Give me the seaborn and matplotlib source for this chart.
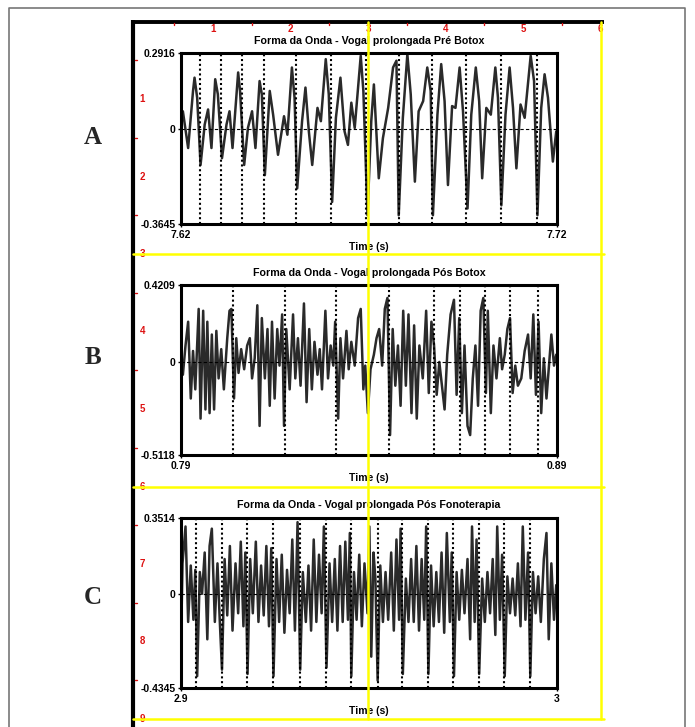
import numpy as np
import pandas as pd
import matplotlib
matplotlib.use('Agg')
import matplotlib.pyplot as plt
import seaborn as sns

# --- A: Pré Botox, 7.62-7.72 s (ms offsets from start, amplitude) ---
a_ms = [0.0, 0.5, 1.9, 3.2, 3.6, 4.3, 5.2, 6.3, 7.2, 8.1,
        9.1, 9.8, 10.9, 12.1, 12.9, 13.7, 15.2, 15.7, 16.8, 17.8,
        18.9, 19.8, 20.9, 21.5, 22.3, 23.6, 24.5, 25.8, 27.4, 28.3,
        29.5, 30.2, 30.9, 32.2, 33.1, 34.0, 34.9, 36.3, 37.2, 38.5,
        39.3, 40.2, 41.2, 42.4, 43.5, 44.4, 45.3, 46.2, 47.8, 48.5,
        49.6, 50.6, 51.3, 52.6, 53.7, 55.1, 56.4, 57.3, 57.9, 59.0,
        60.2, 61.1, 62.2, 63.2, 64.4, 65.5, 66.4, 67.0, 68.2, 69.2,
        70.1, 71.0, 72.1, 73.0, 74.1, 75.0, 76.2, 77.2, 78.4, 79.3,
        80.1, 81.2, 82.4, 83.6, 84.3, 85.2, 86.3, 87.4, 88.3, 89.2,
        90.3, 91.4, 93.0, 93.9, 94.8, 95.8, 96.7, 97.6, 98.9, 99.8]
a_amp = [0.055, 0.068, -0.073, 0.146, 0.197, 0.120, -0.138, 0.017, 0.075, -0.073,
         0.191, 0.133, -0.112, 0.017, 0.068, -0.073, 0.217, 0.146, -0.138, 0.004,
         0.068, -0.073, 0.184, 0.133, -0.177, 0.146, 0.055, -0.099, 0.049, -0.022,
         0.236, 0.120, -0.228, 0.030, 0.159, -0.009, -0.138, 0.081, 0.030, 0.268,
         0.133, -0.280, 0.043, 0.197, -0.009, -0.061, 0.101, 0.004, 0.281, 0.146,
         -0.331, 0.030, 0.171, -0.189, -0.035, 0.081, 0.236, 0.262, -0.331, 0.043,
         0.287, 0.133, -0.202, 0.068, 0.107, 0.236, 0.146, -0.331, 0.055, 0.249,
         0.107, -0.215, 0.088, 0.081, 0.236, 0.068, -0.305, 0.055, 0.236, 0.107,
         -0.189, 0.081, 0.055, 0.236, 0.120, -0.293, 0.055, 0.236, 0.081, -0.151,
         0.094, 0.043, 0.281, 0.184, -0.331, 0.081, 0.210, 0.120, -0.125, -0.009]
a_pulses = [5.0, 10.7, 16.3, 22.0, 30.7, 40.0, 49.3, 58.0, 66.8, 75.9, 85.0, 94.7]

# --- B: Pós Botox, 0.79-0.89 s ---
b_ms = [0.0, 0.5, 1.2, 1.9, 2.6, 3.2, 3.8, 4.7, 5.2, 5.9,
        6.5, 7.0, 7.6, 8.2, 8.8, 9.4, 10.0, 10.7, 11.4, 12.3,
        12.9, 13.4, 14.1, 14.7, 15.3, 16.0, 16.8, 17.6, 18.3, 18.9,
        19.6, 20.3, 20.9, 21.5, 22.3, 23.0, 23.6, 24.2, 24.9, 25.6,
        26.2, 26.9, 27.4, 28.0, 28.9, 29.8, 30.4, 31.1, 31.8, 32.7,
        33.4, 34.1, 34.8, 35.5, 36.3, 36.9, 37.5, 38.4, 39.1, 39.8,
        40.5, 41.0, 41.8, 42.4, 43.1, 44.0, 44.6, 45.3, 46.2, 47.1,
        47.8, 48.5, 49.0, 49.7, 50.4, 51.3, 52.0, 52.7, 53.5, 54.2,
        54.9, 55.6, 56.3, 57.0, 57.7, 58.4, 59.1, 59.8, 60.5, 61.3,
        62.0, 62.7, 63.4, 64.3, 65.2, 65.9, 66.6, 67.3, 68.0, 68.7,
        69.4, 70.1, 70.8, 71.7, 72.6, 73.3, 74.0, 74.7, 75.4, 76.2,
        76.9, 77.6, 78.3, 79.0, 79.7, 80.4, 81.1, 81.6, 82.4, 83.1,
        83.9, 84.8, 85.4, 86.1, 86.8, 87.5, 88.2, 88.9, 89.6, 90.5,
        91.4, 92.3, 93.0, 93.7, 94.4, 95.1, 95.8, 96.5, 97.2, 97.8,
        98.5, 99.2, 99.8]
b_amp = [0.00, -0.07, 0.09, 0.22, -0.20, 0.06, -0.15, 0.29, -0.31, 0.28,
         -0.26, 0.22, -0.28, 0.15, -0.26, 0.17, -0.09, 0.07, -0.15, 0.13,
         0.28, 0.29, -0.20, 0.13, -0.06, 0.07, -0.04, 0.09, 0.13, -0.09,
         0.02, 0.31, -0.35, 0.24, -0.09, 0.18, -0.24, 0.22, -0.20, 0.18,
         -0.02, 0.26, -0.35, 0.18, -0.15, 0.26, -0.09, 0.13, -0.13, 0.32,
         -0.22, 0.18, -0.15, 0.11, -0.07, 0.07, -0.15, 0.28, -0.09, 0.09,
         -0.02, 0.22, -0.31, 0.13, -0.09, 0.17, -0.04, 0.11, -0.02, 0.24,
         0.29, -0.15, -0.02, -0.28, -0.04, 0.04, 0.13, 0.18, -0.02, 0.29,
         0.35, -0.40, 0.18, -0.13, 0.09, -0.24, 0.28, -0.13, 0.26, -0.28,
         0.20, -0.31, 0.09, -0.09, 0.28, -0.17, 0.22, 0.09, -0.18, 0.00,
         -0.13, -0.26, 0.04, 0.26, 0.34, -0.18, 0.24, -0.28, 0.09, -0.35,
         -0.40, -0.09, 0.09, -0.24, 0.28, 0.35, -0.17, 0.28, -0.28, 0.09,
         -0.09, 0.13, -0.04, 0.04, 0.18, 0.24, -0.17, -0.02, -0.13, -0.09,
         0.06, 0.15, -0.09, 0.26, -0.18, 0.22, -0.28, 0.02, -0.20, -0.04,
         0.15, -0.02, 0.04]
b_pulses = [13.8, 27.6, 41.3, 55.2, 67.3, 74.1, 80.8, 87.4, 95.0]

# --- C: Pós Fonoterapia, 2.9-3.0 s ---
c_ms = [0.0, 0.4, 1.2, 1.9, 2.6, 3.3, 3.8, 4.3, 5.0, 5.6,
        6.3, 7.0, 7.6, 8.2, 9.0, 9.7, 10.3, 10.9, 11.6, 12.3,
        13.0, 13.7, 14.5, 15.2, 15.9, 16.6, 17.1, 17.7, 18.4, 19.1,
        19.9, 20.6, 21.3, 22.0, 22.7, 23.4, 24.0, 24.6, 25.4, 26.1,
        26.8, 27.5, 28.2, 28.9, 29.6, 30.3, 31.0, 31.7, 32.4, 33.2,
        33.9, 34.6, 35.3, 36.0, 36.7, 37.4, 38.0, 38.7, 39.5, 40.2,
        40.9, 41.6, 42.3, 43.0, 43.7, 44.4, 44.9, 45.3, 46.0, 46.7,
        47.4, 48.1, 48.8, 49.6, 50.1, 50.6, 51.2, 51.7, 52.3, 53.0,
        53.7, 54.4, 55.1, 55.9, 56.6, 57.3, 58.0, 58.4, 59.0, 59.8,
        60.5, 61.2, 61.9, 62.6, 63.3, 64.0, 64.7, 65.2, 65.8, 66.5,
        67.2, 67.9, 68.6, 69.3, 70.0, 70.7, 71.5, 72.0, 72.6, 73.3,
        74.0, 74.7, 75.4, 76.2, 76.9, 77.4, 78.1, 78.6, 79.3, 80.1,
        80.8, 81.5, 82.2, 82.9, 83.6, 84.1, 84.8, 85.4, 86.1, 86.8,
        87.5, 88.2, 88.9, 89.6, 90.3, 90.9, 91.6, 92.3, 92.9, 93.6,
        94.3, 95.0, 95.7, 96.5, 97.2, 97.8, 98.5, 99.2, 99.8]
c_amp = [-0.24, 0.14, 0.31, -0.13, 0.13, -0.12, 0.11, -0.38, 0.10, 0.00,
         0.19, -0.21, 0.22, 0.30, -0.13, 0.14, -0.12, -0.35, 0.16, -0.10,
         0.22, -0.17, 0.14, -0.09, 0.24, -0.15, 0.19, -0.37, 0.16, -0.09,
         0.24, -0.13, 0.13, -0.10, 0.22, -0.15, 0.21, -0.38, 0.16, -0.13,
         0.18, -0.18, 0.11, -0.09, 0.25, -0.17, 0.33, -0.35, 0.10, -0.13,
         0.13, -0.17, 0.25, -0.13, 0.18, -0.09, 0.31, -0.34, 0.14, -0.13,
         0.16, -0.17, 0.22, -0.13, 0.24, -0.12, 0.28, -0.38, 0.10, -0.12,
         0.18, -0.15, 0.14, -0.09, 0.31, -0.29, 0.19, 0.07, -0.40, 0.13,
         -0.13, 0.10, -0.12, 0.19, -0.17, 0.25, -0.12, 0.30, -0.37, 0.07,
         -0.13, 0.16, -0.13, 0.22, -0.17, 0.16, -0.12, 0.31, -0.37, 0.13,
         -0.15, 0.10, -0.13, 0.19, -0.18, 0.28, -0.13, 0.19, -0.38, 0.10,
         -0.12, 0.11, -0.09, 0.16, -0.21, 0.31, -0.13, 0.25, -0.37, 0.07,
         -0.13, 0.10, -0.09, 0.16, -0.19, 0.31, -0.12, 0.18, -0.38, 0.08,
         -0.09, 0.07, -0.10, 0.14, -0.15, 0.31, -0.12, 0.19, -0.38, 0.10,
         -0.09, 0.08, -0.13, 0.16, 0.28, -0.21, 0.14, -0.12, 0.04]
c_pulses = [4.1, 10.8, 17.6, 24.6, 31.7, 38.6, 45.2, 52.3, 58.9, 65.6, 72.4, 79.3, 86.0, 92.7]

titles = ['Forma da Onda - Vogal prolongada Pré Botox',
          'Forma da Onda - Vogal prolongada Pós Botox',
          'Forma da Onda - Vogal prolongada Pós Fonoterapia']
letters = ['A', 'B', 'C']
t_start = [7.62, 0.79, 2.9]
t_end = [7.72, 0.89, 3.0]
t_labels = [['7.62', '7.72'], ['0.79', '0.89'], ['2.9', '3']]
y_min = [-0.3645, -0.5118, -0.4345]
y_max = [0.2916, 0.4209, 0.3514]
y_labels = [['-0.3645', '0', '0.2916'], ['-0.5118', '0', '0.4209'], ['-0.4345', '0', '0.3514']]

sns.set_style('white')
plt.rcParams['font.family'] = ['Liberation Sans', 'DejaVu Sans']

W, H = 695, 727
fig = plt.figure(figsize=(W / 100, H / 100), dpi=100)


def px_axes(x0, y0, x1, y1, **kw):
    return fig.add_axes([x0 / W, 1 - y1 / H, (x1 - x0) / W, (y1 - y0) / H], **kw)


# background: page frame, Praat rulers, letters
bg = px_axes(0, 0, W, H)
bg.set_xlim(0, W)
bg.set_ylim(H, 0)
bg.axis('off')
bg.plot([9, 9, 685, 685], [H, 8, 8, H], color='#777777', lw=1.2)

ox, oy, inch_x, inch_y = 135.2, 21.5, 77.6, 77.5
bg.plot([133, 604], [oy, oy], color='k', lw=2.8, solid_capstyle='butt')
bg.plot([133, 133], [oy - 1.5, H], color='k', lw=3.0, solid_capstyle='butt')
red = '#dd1111'
for i in range(1, 7):
    bg.text(ox + i * inch_x, oy + 7.5, str(i), color=red, fontsize=7,
            fontweight='bold', ha='center', va='center')
    bg.plot([ox + (i - 0.5) * inch_x] * 2, [oy + 1.5, oy + 3.5], color=red, lw=1)
for i in range(1, 10):
    bg.text(142.5, oy + i * inch_y, str(i), color=red, fontsize=7,
            fontweight='bold', ha='center', va='center')
    bg.plot([134.5, 136.5], [oy + (i - 0.5) * inch_y] * 2, color=red, lw=1)

letter_y = [138, 357, 597]
for let, ly in zip(letters, letter_y):
    bg.text(93, ly, let, fontsize=18, fontweight='bold', family='Liberation Serif',
            ha='center', va='center')

# waveform panels
box_top = [53, 285, 517.5]
box_bot = [224, 455.5, 688]
series = [(a_ms, a_amp, a_pulses), (b_ms, b_amp, b_pulses), (c_ms, c_amp, c_pulses)]

for k in range(3):
    ms, amp, pulses = series[k]
    h = box_bot[k] - box_top[k]
    ax = px_axes(181, box_top[k], 557, box_bot[k])
    df = pd.DataFrame({'t': t_start[k] + np.array(ms) / 1000, 'amp': amp})
    sns.lineplot(data=df, x='t', y='amp', ax=ax, color='#2a2a2a', lw=1.8,
                 estimator=None, sort=False)
    ax.set_xlim(t_start[k], t_end[k])
    ax.set_ylim(y_min[k], y_max[k])
    ax.axhline(0, color='k', lw=0.8, ls=(0, (3, 2)))
    ax.vlines(t_start[k] + np.array(pulses) / 1000, y_min[k], y_max[k],
              colors='k', lw=1.5, linestyles=(0, (1, 1.3)))
    for s in ax.spines.values():
        s.set_color('k')
        s.set_linewidth(2.2)
    ax.set_xticks([t_start[k], t_end[k]])
    ax.set_xticklabels(t_labels[k], fontweight='bold')
    ax.set_yticks([y_min[k], 0, y_max[k]])
    ax.set_yticklabels(y_labels[k], fontweight='bold')
    ax.tick_params(bottom=True, left=True, length=2, width=1, pad=2,
                   labelsize=7.5, colors='k')
    ax.set_ylabel('')
    ax.set_xlabel('Time (s)', fontsize=7.5, fontweight='bold', color='k')
    ax.xaxis.set_label_coords(0.5, -22.5 / h)
    ax.xaxis.label.set_va('center')
    ax.text(0.5, 1 + 12 / h, titles[k], transform=ax.transAxes, ha='center',
            va='center', fontsize=7.7, fontweight='bold', color='k')

# yellow guide lines on top
top = px_axes(0, 0, W, H, zorder=10)
top.set_xlim(0, W)
top.set_ylim(H, 0)
top.axis('off')
top.patch.set_alpha(0)
yel = '#ffff00'
for i in (3, 6, 9):
    top.plot([133, 604], [oy + i * inch_y] * 2, color=yel, lw=1.8)
top.plot([ox + 3 * inch_x] * 2, [oy, oy + 9 * inch_y], color=yel, lw=1.8)
top.plot([ox + 6 * inch_x] * 2, [oy, oy + 9 * inch_y], color=yel, lw=1.8)

fig.savefig('out.png', dpi=100)
